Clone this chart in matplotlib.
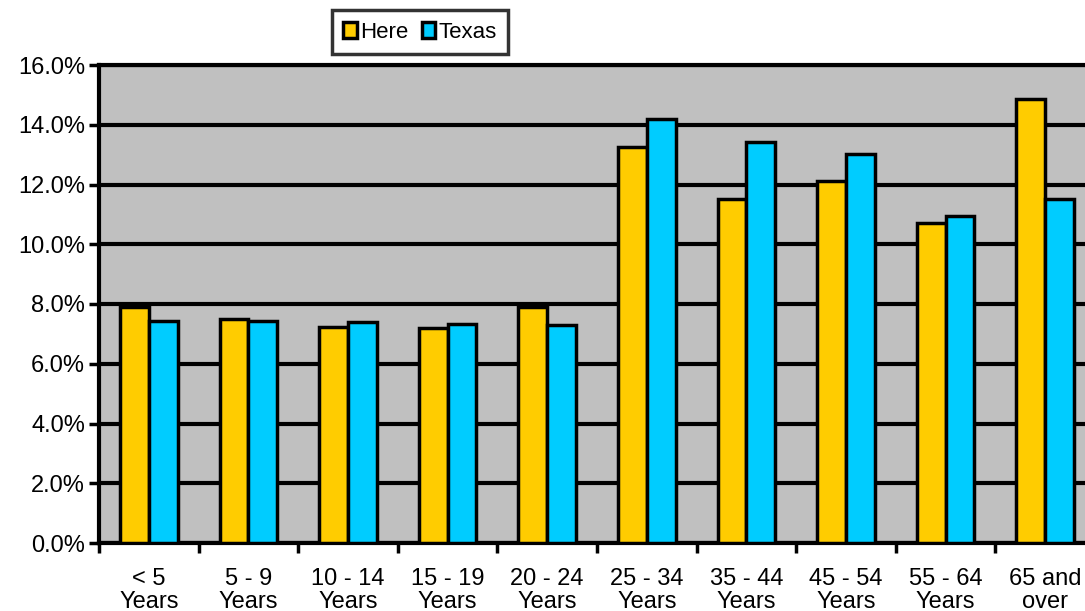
import matplotlib.pyplot as plt
import numpy as np
from matplotlib.patches import Patch

plt.rcParams['font.family'] = ['Liberation Sans', 'DejaVu Sans']

# age groups and share of population (%)
groups = ["< 5\nYears", "5 - 9\nYears", "10 - 14\nYears", "15 - 19\nYears", "20 - 24\nYears",
          "25 - 34\nYears", "35 - 44\nYears", "45 - 54\nYears", "55 - 64\nYears", "65 and\nover"]
here = [7.89, 7.50, 7.24, 7.19, 7.89, 13.24, 11.51, 12.13, 10.70, 14.86]
texas = [7.44, 7.44, 7.39, 7.32, 7.30, 14.18, 13.43, 13.01, 10.96, 11.51]

fig = plt.figure(figsize=(10.85, 6.11), dpi=100)
ax = fig.add_axes([99 / 1085, 1 - 543 / 611, 996 / 1085, 478 / 611])
ax.set_facecolor("#c0c0c0")

x = np.arange(len(groups))
w = 0.29
ax.bar(x - w / 2, here, width=w, color="#ffcc00", edgecolor="black", linewidth=2.5, zorder=3)
ax.bar(x + w / 2, texas, width=w, color="#00ccff", edgecolor="black", linewidth=2.5, zorder=3)

ax.set_xlim(-0.5, len(groups) - 0.5)
ax.set_ylim(0, 16)
ax.set_yticks(np.arange(0, 16.1, 2))
ax.set_yticklabels([f"{v:.1f}%" for v in np.arange(0, 16.1, 2)], fontsize=17)
ax.yaxis.grid(True, color="black", linewidth=3, zorder=1)
ax.set_axisbelow(True)

# category labels at centers, tick marks at the boundaries
ax.set_xticks(x)
ax.set_xticklabels(groups, fontsize=17, linespacing=1.05)
ax.tick_params(axis="x", length=0, pad=18)
ax.set_xticks(np.arange(-0.5, len(groups), 1), minor=True)
ax.tick_params(axis="x", which="minor", length=7, width=2.5, direction="out")
ax.tick_params(axis="y", length=7, width=2.5, direction="out", pad=3)

for s in ax.spines.values():
    s.set_linewidth(3)
    s.set_color("black")

handles = [Patch(facecolor="#ffcc00", edgecolor="black", linewidth=2.5, label="Here"),
           Patch(facecolor="#00ccff", edgecolor="black", linewidth=2.5, label="Texas")]
leg = fig.legend(handles=handles, loc="center", bbox_to_anchor=(420 / 1085, 1 - 32 / 611),
                 ncol=2, fontsize=16, frameon=True, fancybox=False, edgecolor="black",
                 handlelength=0.6, handleheight=0.7, handletextpad=0.15, columnspacing=0.6,
                 borderpad=0.5, borderaxespad=0)
leg.get_frame().set_linewidth(2.5)

fig.savefig("out.png", dpi=100)
